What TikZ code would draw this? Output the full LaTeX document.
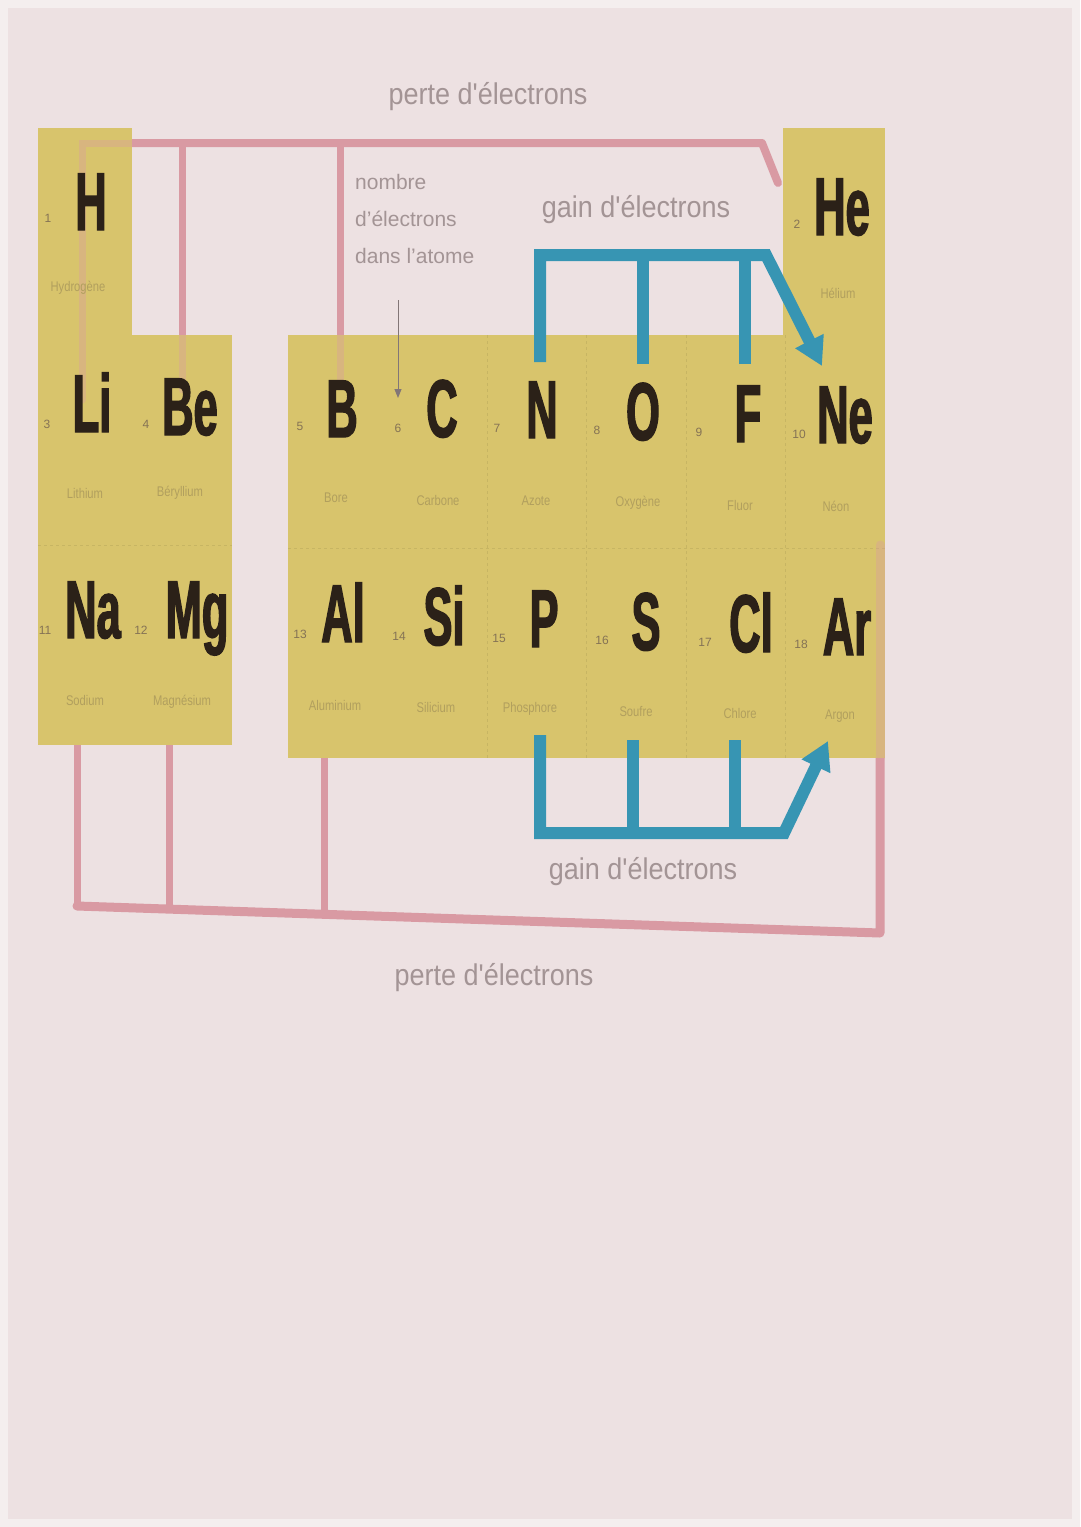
\documentclass[tikz,border=0pt]{standalone}
\usepackage{fontspec}
\setmainfont{Liberation Sans}
\newfontfamily\symfont[FakeBold=1.6, FakeStretch=0.53]{Liberation Sans}
\newfontfamily\namefont[FakeStretch=0.8]{Liberation Sans}
\newfontfamily\labfont[FakeStretch=0.9]{Liberation Sans}
\usetikzlibrary{arrows.meta}
\definecolor{bgc}{HTML}{EDE1E2}
\definecolor{edgec}{HTML}{F4EEEE}
\definecolor{cellc}{HTML}{D8C46C}
\definecolor{pinkc}{HTML}{D99AA3}
\definecolor{bluec}{HTML}{3795B3}
\definecolor{labc}{HTML}{A39495}
\definecolor{symc}{HTML}{2B2118}
\definecolor{namec}{HTML}{B19F5E}
\definecolor{numc}{HTML}{857355}
\begin{document}
\begin{tikzpicture}[x=1pt,y=-1pt,
  cell/.style={fill=cellc, inner sep=0, outer sep=0, anchor=north west},
  sym/.style={font=\fontsize{82}{82}\symfont\bfseries, text=symc, inner sep=0, anchor=base},
  num/.style={font=\fontsize{12}{12}\selectfont, text=numc, inner sep=0, anchor=base},
  ename/.style={font=\fontsize{14}{14}\namefont, text=namec, inner sep=0},
  label/.style={font=\fontsize{30}{30}\labfont, text=labc, inner sep=0},
  pinkline/.style={draw=pinkc, line width=8pt, line cap=round, line join=round},
  pinkfaint/.style={draw=pinkc, line width=7pt, opacity=0.35, line cap=round},
  blueline/.style={draw=bluec, line width=12pt, line join=miter},
  bluearrow/.style={blueline, -{Triangle[length=28pt,width=30pt]}},
  sep/.style={draw=cellc!70!black, line width=1pt, opacity=0.25, dash pattern=on 3pt off 3pt}
]
% background
\fill[edgec] (0,0) rectangle (1080,1527);
\fill[bgc] (8,8) rectangle (1072,1519);
\useasboundingbox (0,0) rectangle (1080,1527);

% coordinates of pink network
\coordinate (pH) at (82,143);
\coordinate (pHd) at (82,400);
\coordinate (pBe) at (182,143);
\coordinate (pBed) at (182,390);
\coordinate (pB) at (340,143);
\coordinate (pBd) at (340,385);
\coordinate (pTR) at (762,143);
\coordinate (pHe) at (778,183);
\coordinate (pNa) at (77,745);
\coordinate (pNab) at (77,906);
\coordinate (pMg) at (169,745);
\coordinate (pMgb) at (169,909);
\coordinate (pAl) at (324,757);
\coordinate (pAlb) at (324,914);
\coordinate (pBR) at (880,933);
\coordinate (pAr) at (880,545);

% pink lines (full strength, below cells)
\draw[pinkline] (pHd) -- (pH) -- (pTR) -- (pHe);
\draw[pinkline, line width=7pt] (pBe) -- (pBed);
\draw[pinkline, line width=7pt] (pB) -- (pBd);
\draw[pinkline, line width=7pt] (pNa) -- (pNab);
\draw[pinkline, line width=7pt] (pMg) -- (pMgb);
\draw[pinkline, line width=7pt] (pAl) -- (pAlb);
\draw[pinkline, line width=9pt] (pNab) -- (pBR) -- (pAr);

% cells
\node[cell, minimum width=94pt, minimum height=207pt] (cH) at (38,128) {};
\node[cell, minimum width=102pt, minimum height=207pt] (cHe) at (783,128) {};
\node[cell, minimum width=97pt, minimum height=210pt] (cLi) at (38,335) {};
\node[cell, minimum width=97pt, minimum height=210pt] (cBe) at (135,335) {};
\node[cell, minimum width=97pt, minimum height=200pt] (cNa) at (38,545) {};
\node[cell, minimum width=97pt, minimum height=200pt] (cMg) at (135,545) {};
\foreach \n [count=\i from 0] in {B,C,N,O,F,Ne} {
  \node[cell, minimum width=99.6pt, minimum height=213pt] (c\n) at (288+99.5*\i,335) {};
}
\foreach \n [count=\i from 0] in {Al,Si,P,S,Cl,Ar} {
  \node[cell, minimum width=99.6pt, minimum height=210pt] (c\n) at (288+99.5*\i,548) {};
}
% faint cell separators
\draw[sep] (cC.north east) -- (cSi.south east);
\draw[sep] (cN.north east) -- (cP.south east);
\draw[sep] (cO.north east) -- (cS.south east);
\draw[sep] (cF.north east) -- (cCl.south east);
\draw[sep] (cB.south west) -- (cNe.south east);
\draw[sep] (cLi.south west) -- (cBe.south east);

% pink lines seen through the cells
\draw[pinkfaint] (pHd) -- (pH) -- (cH.north east |- pH);
\draw[pinkfaint] (pBe) -- (pBed);
\draw[pinkfaint] (pB) -- (pBd);
\draw[pinkfaint, line width=9pt] (pAr) -- (cAr.south east -| pAr);

% blue lines
\coordinate (bN) at (540,362);
\coordinate (bNt) at (540,255);
\coordinate (bO) at (643,364);
\coordinate (bOt) at (643,255);
\coordinate (bF) at (745,364);
\coordinate (bFt) at (745,255);
\coordinate (bTR) at (766,255);
\coordinate (bNe) at (822,366);
\draw[bluearrow] (bN) -- (bNt) -- (bTR) -- (bNe);
\draw[blueline] (bO) -- (bOt);
\draw[blueline] (bF) -- (bFt);

\coordinate (bP) at (540,735);
\coordinate (bPb) at (540,833);
\coordinate (bS) at (633,740);
\coordinate (bSb) at (633,833);
\coordinate (bCl) at (735,740);
\coordinate (bClb) at (735,833);
\coordinate (bBR) at (784,833);
\coordinate (bAr) at (828,741);
\draw[bluearrow] (bP) -- (bPb) -- (bBR) -- (bAr);
\draw[blueline] (bS) -- (bSb);
\draw[blueline] (bCl) -- (bClb);

% symbols
\node[sym] (sH) at (91,230) {H};
\node[sym] (sHe) at (842,235) {He};
\node[sym] (sLi) at (92,432) {Li};
\node[sym] (sBe) at (190,435) {Be};
\node[sym] (sB) at (342,437) {B};
\node[sym] (sC) at (442,437) {C};
\node[sym] (sN) at (542,438) {N};
\node[sym] (sO) at (643,440) {O};
\node[sym] (sF) at (748,442) {F};
\node[sym] (sNe) at (845,443) {Ne};
\node[sym] (sNa) at (93,638) {Na};
\node[sym] (sMg) at (197,638) {Mg};
\node[sym] (sAl) at (343,642) {Al};
\node[sym] (sSi) at (444,645) {Si};
\node[sym] (sP) at (544,647) {P};
\node[sym] (sS) at (646,650) {S};
\node[sym] (sCl) at (751,652) {Cl};
\node[sym] (sAr) at (847,655) {Ar};

% atomic numbers
\node[num] (nH) at (48,222) {1};
\node[num] (nHe) at (797,228) {2};
\node[num] (nLi) at (47,428) {3};
\node[num] (nBe) at (146,428) {4};
\node[num] (nB) at (300,430) {5};
\node[num] (nC) at (398,432) {6};
\node[num] (nN) at (497,432) {7};
\node[num] (nO) at (597,434) {8};
\node[num] (nF) at (699,436) {9};
\node[num] (nNe) at (799,438) {10};
\node[num] (nNa) at (45,634) {11};
\node[num] (nMg) at (141,634) {12};
\node[num] (nAl) at (300,638) {13};
\node[num] (nSi) at (399,640) {14};
\node[num] (nP) at (499,642) {15};
\node[num] (nS) at (602,644) {16};
\node[num] (nCl) at (705,646) {17};
\node[num] (nAr) at (801,648) {18};

% element names
\node[ename] (mH) at (78,288) {Hydrogène};
\node[ename] (mHe) at (838,293) {Hélium};
\node[ename] (mLi) at (85,493) {Lithium};
\node[ename] (mBe) at (180,493) {Béryllium};
\node[ename] (mB) at (336,498) {Bore};
\node[ename] (mC) at (438,500) {Carbone};
\node[ename] (mN) at (536,501) {Azote};
\node[ename] (mO) at (638,503) {Oxygène};
\node[ename] (mF) at (740,505) {Fluor};
\node[ename] (mNe) at (836,506) {Néon};
\node[ename] (mNa) at (85,700) {Sodium};
\node[ename] (mMg) at (182,702) {Magnésium};
\node[ename] (mAl) at (335,705) {Aluminium};
\node[ename] (mSi) at (436,707) {Silicium};
\node[ename] (mP) at (530,709) {Phosphore};
\node[ename] (mS) at (636,711) {Soufre};
\node[ename] (mCl) at (740,713) {Chlore};
\node[ename] (mAr) at (840,716) {Argon};

% labels
\node[label] (lTop) at (488,97) {perte d'électrons};
\node[label] (lGainTop) at (636,210) {gain d'électrons};
\node[label] (lGainBot) at (643,872) {gain d'électrons};
\node[label] (lBot) at (494,978) {perte d'électrons};
\node[font=\fontsize{21}{37}\selectfont, text=labc, inner sep=0, anchor=north west, align=left] (lNum) at (355,174)
  {nombre\\d'électrons\\dans l'atome};
\coordinate (ptr) at (398,300);
\draw[draw=labc!80!black, line width=1pt, -{Triangle[length=9pt,width=7pt]}] (ptr) -- (nC.north |- 0,398);
\end{tikzpicture}
\end{document}
